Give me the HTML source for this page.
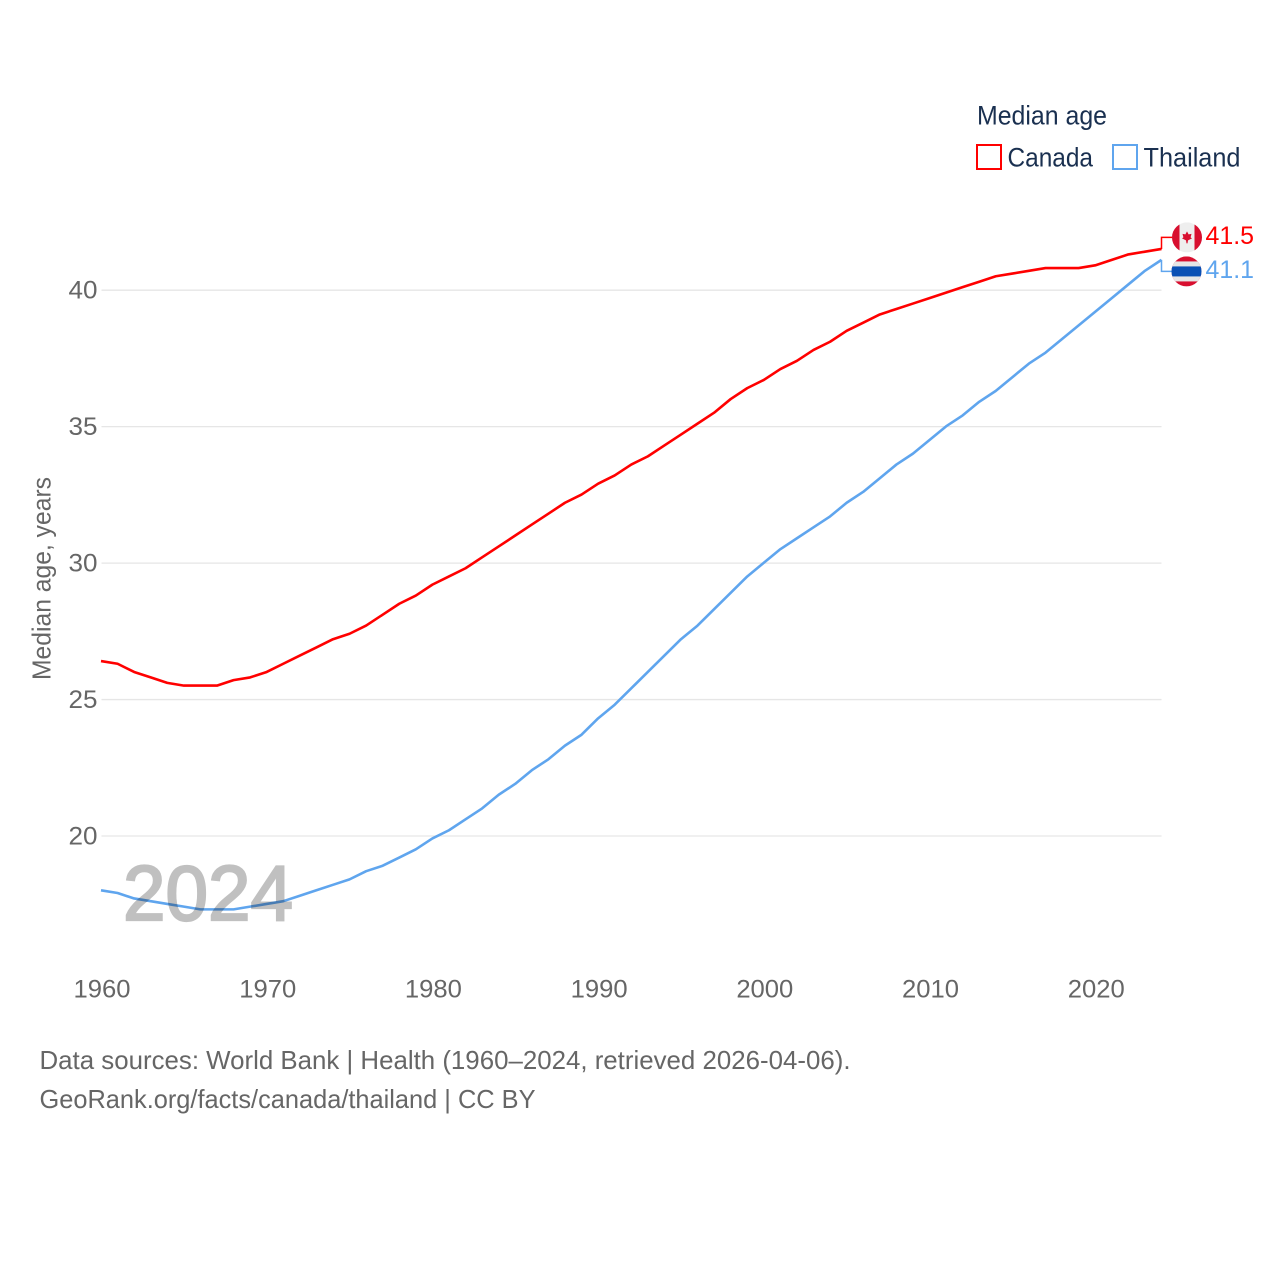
<!DOCTYPE html>
<html lang="en">
<head>
<meta charset="utf-8">
<title>Median age: Canada and Thailand</title>
<style>
html,body{margin:0;padding:0;background:#fff;}
svg{display:block;}
text{font-family:"Liberation Sans",sans-serif;}
</style>
</head>
<body>
<svg id="chart" xmlns="http://www.w3.org/2000/svg" width="1280" height="1280" viewBox="0 0 1280 1280">
  <rect x="0" y="0" width="1280" height="1280" fill="#fff"/>
  <g id="grid"></g>
  <g id="yticks"></g>
  <g id="xticks"></g>
  <text transform="translate(50.5,680) rotate(-90)" font-size="26" fill="#666" textLength="203" lengthAdjust="spacingAndGlyphs">Median age, years</text>
  <g id="lines"></g>
  <text x="123" y="920" font-size="78" font-weight="400" fill="#c0c0c0" stroke="#c0c0c0" stroke-width="2.2" style="mix-blend-mode:multiply" textLength="170" lengthAdjust="spacingAndGlyphs">2024</text>
  <g id="ends"></g>

  <g>
    <text x="977" y="124.5" font-size="27" fill="#1a3050" textLength="130" lengthAdjust="spacingAndGlyphs">Median age</text>
    <g>
      <rect x="977" y="145" width="24" height="24" fill="#fff" stroke="#ff0000" stroke-width="2"/>
      <text x="1007.5" y="166.5" font-size="27" fill="#1a3050" textLength="85.5" lengthAdjust="spacingAndGlyphs">Canada</text>
    </g>
    <g>
      <rect x="1113" y="145" width="24" height="24" fill="#fff" stroke="#5fa5ee" stroke-width="2"/>
      <text x="1143.5" y="166.5" font-size="27" fill="#1a3050" textLength="97" lengthAdjust="spacingAndGlyphs">Thailand</text>
    </g>
  </g>

  <text x="39.5" y="1069" font-size="26" fill="#666" textLength="811" lengthAdjust="spacingAndGlyphs">Data sources: World Bank | Health (1960–2024, retrieved 2026-04-06).</text>
  <text x="39.5" y="1108" font-size="26" fill="#666" textLength="496" lengthAdjust="spacingAndGlyphs">GeoRank.org/facts/canada/thailand | CC BY</text>
</svg>
<script>
const years = [1960,1961,1962,1963,1964,1965,1966,1967,1968,1969,1970,1971,1972,1973,1974,1975,1976,1977,1978,1979,1980,1981,1982,1983,1984,1985,1986,1987,1988,1989,1990,1991,1992,1993,1994,1995,1996,1997,1998,1999,2000,2001,2002,2003,2004,2005,2006,2007,2008,2009,2010,2011,2012,2013,2014,2015,2016,2017,2018,2019,2020,2021,2022,2023,2024];
const canadaValues = [26.4,26.3,26.0,25.8,25.6,25.5,25.5,25.5,25.7,25.8,26.0,26.3,26.6,26.9,27.2,27.4,27.7,28.1,28.5,28.8,29.2,29.5,29.8,30.2,30.6,31.0,31.4,31.8,32.2,32.5,32.9,33.2,33.6,33.9,34.3,34.7,35.1,35.5,36.0,36.4,36.7,37.1,37.4,37.8,38.1,38.5,38.8,39.1,39.3,39.5,39.7,39.9,40.1,40.3,40.5,40.6,40.7,40.8,40.8,40.8,40.9,41.1,41.3,41.4,41.5];
const thailandValues = [18.0,17.9,17.7,17.6,17.5,17.4,17.3,17.3,17.3,17.4,17.5,17.6,17.8,18.0,18.2,18.4,18.7,18.9,19.2,19.5,19.9,20.2,20.6,21.0,21.5,21.9,22.4,22.8,23.3,23.7,24.3,24.8,25.4,26.0,26.6,27.2,27.7,28.3,28.9,29.5,30.0,30.5,30.9,31.3,31.7,32.2,32.6,33.1,33.6,34.0,34.5,35.0,35.4,35.9,36.3,36.8,37.3,37.7,38.2,38.7,39.2,39.7,40.2,40.7,41.1];
const yTickValues = [20,25,30,35,40];
const xTickValues = [1960,1970,1980,1990,2000,2010,2020];

const NS = 'http://www.w3.org/2000/svg';
const RED = '#ff0000';
const BLUE = '#5fa5ee';
function xScale(year){ return 101 + (year - 1960) * (1060.5 / 64); }
function yScale(v){ return 835.7 - (v - 20) * 27.29; }
function make(tag, attrs, parent){
  const el = document.createElementNS(NS, tag);
  for (const k in attrs) el.setAttribute(k, attrs[k]);
  parent.appendChild(el);
  return el;
}
function linePath(values){
  return values.map((v, i) => (i ? 'L' : 'M') + xScale(years[i]).toFixed(2) + ' ' + yScale(v).toFixed(2)).join(' ');
}

const grid = document.getElementById('grid');
const yticks = document.getElementById('yticks');
yTickValues.forEach(v => {
  const ln = make('line', {x1:101.5, x2:1161.5, y1:yScale(v) + 0.3, y2:yScale(v) + 0.3, stroke:'#e6e6e6', 'stroke-width':1.3}, grid);
  
  
  const t = make('text', {x:97.5, y:yScale(v) + 8.8, 'font-size':25, fill:'#666', 'text-anchor':'end', textLength:29, lengthAdjust:'spacingAndGlyphs'}, yticks);
  
  
  t.textContent = v;
});

const xticks = document.getElementById('xticks');
xTickValues.forEach(y => {
  const t = make('text', {x:xScale(y) + 1, y:997.5, 'font-size':25, fill:'#666', 'text-anchor':'middle', textLength:57, lengthAdjust:'spacingAndGlyphs'}, xticks);
  
  
  t.textContent = y;
});

const lines = document.getElementById('lines');
const canadaLine = make('path', {d:linePath(canadaValues), fill:'none', stroke:RED, 'stroke-width':2.6, 'stroke-linejoin':'round'}, lines);


const thailandLine = make('path', {d:linePath(thailandValues), fill:'none', stroke:BLUE, 'stroke-width':2.6, 'stroke-linejoin':'round'}, lines);



const ends = document.getElementById('ends');
const xEnd = xScale(years[years.length - 1]);
const yCanada = yScale(canadaValues[canadaValues.length - 1]);
const yThailand = yScale(thailandValues[thailandValues.length - 1]);
const mid = (yCanada + yThailand) / 2;
const labelCanadaY = mid - 17;
const labelThailandY = mid + 17;

const connCanada = make('path', {d:`M${xEnd} ${yCanada} V${labelCanadaY} H1172`, fill:'none', stroke:RED, 'stroke-width':1.5}, ends);


const connThailand = make('path', {d:`M${xEnd} ${yThailand} V${labelThailandY} H1172`, fill:'none', stroke:BLUE, 'stroke-width':1.5}, ends);



const defs = make('defs', {}, ends);
const cpC = make('clipPath', {id:'clip-ca'}, defs);
make('circle', {cx:1187, cy:labelCanadaY, r:15}, cpC);
const cpT = make('clipPath', {id:'clip-th'}, defs);
make('circle', {cx:1186.5, cy:labelThailandY, r:15}, cpT);

const flagC = make('g', {'clip-path':'url(#clip-ca)'}, ends);


make('rect', {x:1172, y:labelCanadaY - 15, width:30, height:30, fill:'#eeeeee'}, flagC);
make('rect', {x:1172, y:labelCanadaY - 15, width:7.5, height:30, fill:'#d80f2f'}, flagC);
make('rect', {x:1194.5, y:labelCanadaY - 15, width:7.5, height:30, fill:'#d80f2f'}, flagC);
const l = labelCanadaY;
make('path', {d:`M1187 ${l-6} L1188.6 ${l-3} L1191.5 ${l-3.5} L1190.6 ${l} L1192 ${l+1} L1188 ${l+3} L1187.5 ${l+6} L1186.5 ${l+6} L1186 ${l+3} L1182 ${l+1} L1183.4 ${l} L1182.5 ${l-3.5} L1185.4 ${l-3} Z`, fill:'#d80f2f'}, flagC);

const flagT = make('g', {'clip-path':'url(#clip-th)'}, ends);


const t0 = labelThailandY;
make('rect', {x:1171, y:t0 - 15, width:31, height:30, fill:'#d80f2f'}, flagT);
make('rect', {x:1171, y:t0 - 10, width:31, height:20, fill:'#e6e6e6'}, flagT);
make('rect', {x:1171, y:t0 - 5, width:31, height:10, fill:'#0a50b4'}, flagT);

const lblC = make('text', {x:1205.5, y:labelCanadaY + 6.5, 'font-size':25, fill:RED, textLength:48.5, lengthAdjust:'spacingAndGlyphs'}, ends);


lblC.textContent = canadaValues[canadaValues.length - 1].toFixed(1);
const lblT = make('text', {x:1205.5, y:labelThailandY + 6.5, 'font-size':25, fill:BLUE, textLength:48.5, lengthAdjust:'spacingAndGlyphs'}, ends);


lblT.textContent = thailandValues[thailandValues.length - 1].toFixed(1);
</script>
</body>
</html>
